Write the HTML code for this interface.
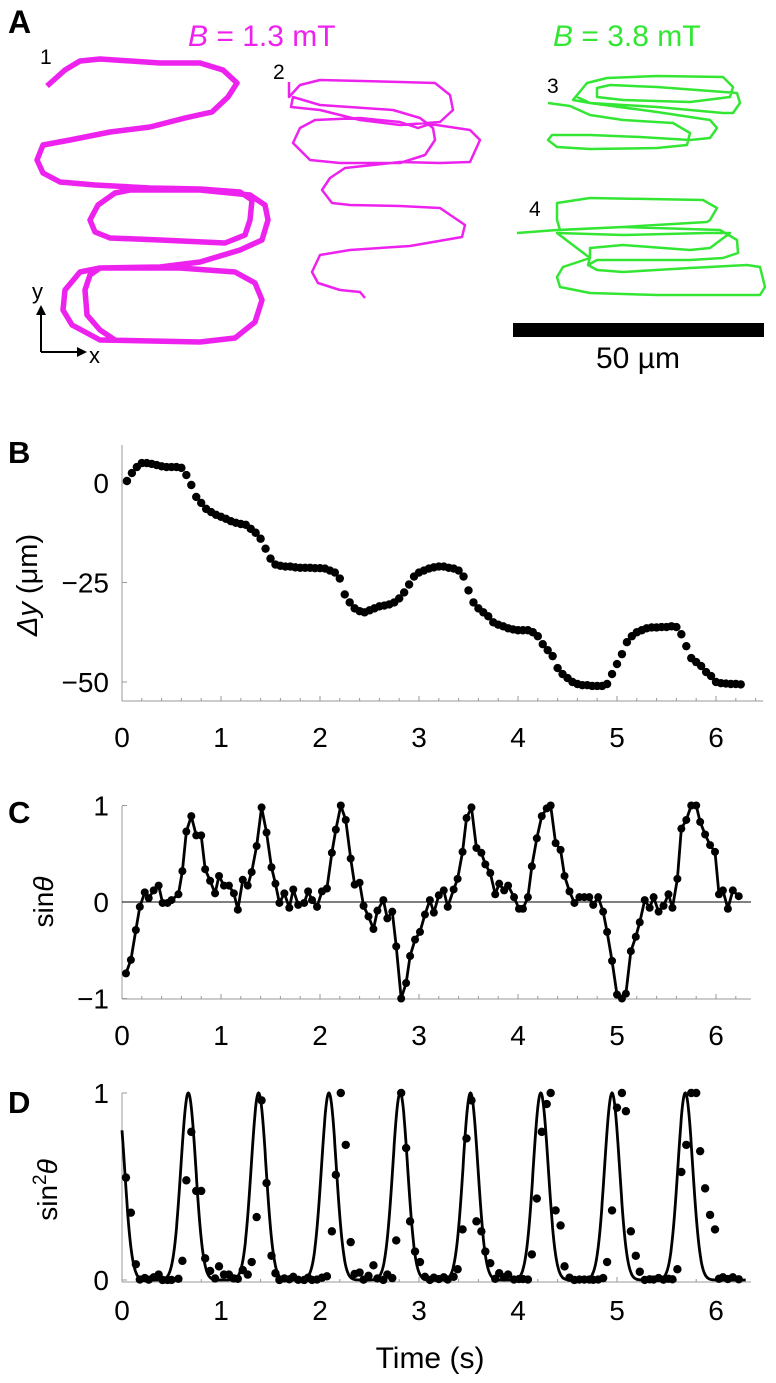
<!DOCTYPE html>
<html><head><meta charset="utf-8"><style>
html,body{margin:0;padding:0;background:#fff;}
svg{display:block;font-family:"Liberation Sans",Arial,sans-serif;}
</style></head><body>
<svg id="fig" width="776" height="1383" viewBox="0 0 776 1383" xmlns="http://www.w3.org/2000/svg">
<g>
<text x="8" y="33" font-size="32" font-weight="bold">A</text>
<text x="188" y="46" font-size="30" fill="#ee22ee"><tspan font-style="italic">B</tspan> = 1.3 mT</text>
<text x="553" y="46" font-size="30" fill="#33e633"><tspan font-style="italic">B</tspan> = 3.8 mT</text>
<text x="40" y="64" font-size="21">1</text>
<text x="273" y="79" font-size="21">2</text>
<text x="547" y="93" font-size="21">3</text>
<text x="529" y="216" font-size="21">4</text>
<polyline fill="none" stroke="#ee22ee" stroke-width="5.5" stroke-linejoin="round" points="47,86 65,70 80,61 100,59 160,63 200,63 223,70 237,83 228,97 212,112 185,118 150,127 110,132 70,140 43,145 37,160 43,173 60,182 95,185 150,188 200,189 240,192 252,200 250,220 245,235 225,243 160,240 110,238 95,232 90,220 98,205 115,193 130,190 200,190 250,195 265,205 268,220 262,240 240,250 200,262 160,267 100,268 80,272 65,290 63,310 72,325 100,340 200,342 235,338 255,322 262,300 255,283 235,272 180,268 100,268 90,275 85,290 87,315 100,330 115,340"/>
<polyline fill="none" stroke="#ee22ee" stroke-width="2.5" stroke-linejoin="round" points="289,82 289,97 300,85 320,80 400,82 435,83 450,95 453,110 440,122 400,125 360,120 320,110 291,107 293,97 320,105 393,110 420,118 433,128 435,140 425,155 400,163 340,163 310,160 293,143 300,128 315,120 360,118 400,122 418,128 430,124 470,130 480,140 470,162 440,163 400,162 345,168 330,178 322,190 332,203 350,205 400,206 440,208 465,225 462,237 410,246 350,250 320,255 312,272 318,283 340,290 360,292 365,298"/>
<polyline fill="none" stroke="#33e633" stroke-width="2.5" stroke-linejoin="round" points="548,103 570,106 590,115 623,120 673,123 690,133 687,145 657,148 590,149 557,147 548,140 552,135 590,135 640,137 690,140 710,138 717,128 710,120 657,112 590,103 573,100 587,83 607,78 657,76 723,77 733,87 730,97 690,102 623,100 597,97 597,88 610,85 657,87 737,93 740,103 733,113 723,113 657,107 590,103 577,97"/>
<polyline fill="none" stroke="#33e633" stroke-width="2.5" stroke-linejoin="round" points="517,233 557,230 623,227 707,222 710,220 717,208 703,200 590,198 557,203 557,220 560,230 623,227 720,230 737,240 738,253 723,258 690,260 597,260 588,265 590,257 590,248 623,245 690,250 710,248 730,233 707,233 623,235 557,233 590,258 563,267 557,277 560,287 590,293 657,295 760,295 765,287 760,267 747,265 690,268 623,272 597,270 588,265"/>
<rect x="513" y="323" width="251" height="14" fill="#000"/>
<text x="638" y="368" font-size="30" text-anchor="middle">50 µm</text>
<g stroke="#000" stroke-width="2" fill="none">
<line x1="41" y1="352" x2="41" y2="312"/><line x1="41" y1="352" x2="80" y2="352"/>
</g>
<polygon points="41,305 36,315 46,315" fill="#000"/>
<polygon points="87,352 77,347 77,357" fill="#000"/>
<text x="32" y="299" font-size="22">y</text>
<text x="89" y="363" font-size="22">x</text>
</g>

<text x="8" y="463" font-size="31" font-weight="bold">B</text>
<text transform="translate(37,585) rotate(-90)" font-size="29" text-anchor="middle"><tspan font-style="italic">Δy</tspan> (μm)</text>
<text x="8" y="823" font-size="31" font-weight="bold">C</text>
<text transform="translate(53,902) rotate(-90)" font-size="28" text-anchor="middle">sin<tspan font-style="italic">θ</tspan></text>
<text x="8" y="1113" font-size="31" font-weight="bold">D</text>
<text transform="translate(57,1190) rotate(-90)" font-size="28" text-anchor="middle">sin<tspan font-size="19" dy="-11">2</tspan><tspan font-style="italic" dy="11">θ</tspan></text>
<text x="430" y="1368" font-size="30" text-anchor="middle">Time (s)</text>
<g id="plots"></g>
</svg>
<script>
// Panel B data (Δy in µm), sampled every 0.05 s starting at 0.05 s
const bStart = 0.05;
const bStep = 0.05;
const dyValues = [0.5,2.5,4,5,5,4.8,4.5,4.2,4,4,4,3.8,2,-0.5,-3.5,-5,-6.5,-7.3,-8,-8.5,-9,-9.6,-10,-10.3,-10.5,-11.5,-12.5,-14,-16.5,-19,-20.5,-20.8,-21,-21,-21.2,-21.3,-21.3,-21.3,-21.4,-21.4,-21.5,-22,-22.5,-24,-28,-30,-31.5,-32.2,-32.5,-32,-31.5,-31,-30.8,-30.5,-30,-29,-27.5,-25.5,-23.5,-22.5,-22,-21.5,-21.2,-21,-21,-21.3,-21.5,-22,-23.5,-27,-30,-31.5,-32.5,-33.5,-35,-35.6,-36,-36.5,-36.8,-37,-37,-37,-37.5,-38.5,-40.5,-42,-43.5,-46.5,-48,-49,-50,-50.5,-50.8,-50.8,-51,-51,-51,-50.5,-48,-45.5,-43,-40,-38.5,-37.5,-37,-36.5,-36.3,-36.3,-36.2,-36.2,-36,-36.2,-38,-41,-44,-45,-46,-47.5,-48.5,-50,-50.3,-50.4,-50.5,-50.5,-50.6];
const bTicksY = [0,-25,-50];
const bTickLabelsY = ["0","\u221225","\u221250"];
// Panel C data (sinθ)
const cTimes = [0.04,0.09,0.14,0.18,0.23,0.27,0.32,0.37,0.41,0.46,0.50,0.57,0.61,0.65,0.70,0.75,0.80,0.84,0.89,0.94,0.98,1.03,1.08,1.13,1.17,1.22,1.27,1.31,1.36,1.41,1.46,1.51,1.55,1.59,1.64,1.69,1.73,1.78,1.84,1.88,1.92,1.97,2.02,2.07,2.12,2.16,2.21,2.26,2.31,2.35,2.40,2.44,2.49,2.54,2.58,2.64,2.68,2.73,2.77,2.82,2.87,2.91,2.96,3.01,3.06,3.11,3.15,3.20,3.25,3.29,3.35,3.39,3.44,3.48,3.53,3.58,3.63,3.67,3.72,3.77,3.81,3.86,3.90,3.96,4.01,4.05,4.10,4.14,4.19,4.24,4.29,4.33,4.38,4.43,4.47,4.52,4.57,4.62,4.67,4.72,4.76,4.81,4.86,4.90,4.95,5.00,5.05,5.09,5.14,5.19,5.23,5.28,5.33,5.37,5.42,5.47,5.52,5.56,5.61,5.65,5.70,5.75,5.80,5.84,5.89,5.94,5.99,6.03,6.07,6.12,6.17,6.23];
const sinValues = [-0.74,-0.6,-0.29,-0.05,0.1,0.04,0.12,0.17,-0.01,-0.01,0.02,0.08,0.32,0.73,0.89,0.69,0.69,0.34,0.22,0.09,0.27,0.17,0.17,0.09,-0.08,0.23,0.17,0.31,0.58,0.98,0.72,0.36,0.19,-0.01,0.09,-0.06,0.13,-0.03,-0.01,0.11,0.02,-0.05,0.11,0.14,0.51,0.75,1.0,0.85,0.45,0.18,0.2,-0.04,-0.15,-0.28,-0.09,0.02,-0.17,-0.1,-0.46,-1.0,-0.84,-0.56,-0.39,-0.31,-0.13,0.02,-0.11,0.07,0.12,-0.05,0.13,0.24,0.52,0.87,0.98,0.56,0.51,0.39,0.3,0.08,0.19,0.12,0.17,0.05,-0.07,-0.07,0.05,0.37,0.66,0.89,0.97,1.0,0.61,0.54,0.27,0.11,-0.01,0.05,0.05,0.05,-0.03,0.05,-0.1,-0.31,-0.61,-0.96,-1.0,-0.95,-0.51,-0.36,-0.21,0.02,-0.06,0.05,-0.1,-0.04,0.08,-0.06,0.24,0.76,0.85,1.0,1.0,0.83,0.7,0.59,0.52,0.08,0.12,-0.07,0.12,0.06];
const cTicksY = [1,0,-1];
const cTickLabelsY = ["1","0","\u22121"];
// Panel D data (sin²θ measured points and fitted peak times)
const sin2Values = sinValues.map(v => v * v);
const fitPeakTimes = [-0.05,0.67,1.38,2.09,2.81,3.52,4.23,4.95,5.69];
const fitWidth = 0.075;
const dTicksY = [1,0];
const dTickLabelsY = ["1","0"];
const xTicks = [0,1,2,3,4,5,6];
const xTickLabels = ["0","1","2","3","4","5","6"];

const NS = "http://www.w3.org/2000/svg";
const plots = document.getElementById("plots");
const X0 = 122, XS = 99;
function xPos(t){ return X0 + t * XS; }
function mk(tag, attrs, parent){
  const e = document.createElementNS(NS, tag);
  for (const k in attrs) e.setAttribute(k, attrs[k]);
  (parent || plots).appendChild(e);
  return e;
}
function axes(name, yTop, yBot, xRight, yMap, yTicks, yLabels, labelY){
  const g = mk("g", {});
  
  
  const ya = mk("line", {x1:X0, y1:yTop, x2:X0, y2:yBot, stroke:"#999", "stroke-width":1}, g);
  
  
  const xa = mk("line", {x1:X0, y1:yBot, x2:xRight, y2:yBot, stroke:"#999", "stroke-width":1}, g);
  
  
  for (let i = 0; i <= 32; i++) {
    const t = i * 0.2;
    const x = xPos(t);
    if (x > xRight) break;
    const major = i % 5 === 0;
    const tk = mk("line", {x1:x, y1:yBot, x2:x, y2:yBot - (major ? 5 : 3), stroke:"#999", "stroke-width":1}, g);
    
    
  }
  xTicks.forEach((t, i) => {
    const lb = mk("text", {x:xPos(t), y:labelY, "font-size":28, "text-anchor":"middle"}, g);
    lb.textContent = xTickLabels[i];
    
    
  });
  yTicks.forEach((v, i) => {
    const y = yMap(v);
    const tk = mk("line", {x1:X0, y1:y, x2:X0 + 5, y2:y, stroke:"#999", "stroke-width":1}, g);
    
    
    const lb = mk("text", {x:109, y:y + 10, "font-size":28, "text-anchor":"end"}, g);
    lb.textContent = yLabels[i];
    
    
  });
}

// Panel B
function yB(v){ return 483 - v * 3.98; }
axes("panel-b", 445, 701, 763, yB, bTicksY, bTickLabelsY, 747);
const gB = mk("g", {});


dyValues.forEach((v, i) => {
  const c = mk("circle", {cx:xPos(bStart + i * bStep), cy:yB(v), r:4.2, fill:"#000"}, gB);
  
  
});

// Panel C
function yC(v){ return 902 - v * 96.5; }
axes("panel-c", 806, 999, 751, yC, cTicksY, cTickLabelsY, 1045);
const zl = mk("line", {x1:X0, y1:yC(0), x2:751, y2:yC(0), stroke:"#000", "stroke-width":1});


const gC = mk("g", {});


const cLine = mk("polyline", {fill:"none", stroke:"#000", "stroke-width":2.8, "stroke-linejoin":"round",
  points: cTimes.map((t, i) => xPos(t) + "," + yC(sinValues[i])).join(" ")}, gC);


cTimes.forEach((t, i) => {
  const c = mk("circle", {cx:xPos(t), cy:yC(sinValues[i]), r:4, fill:"#000"}, gC);
  
  
});

// Panel D
function yD(v){ return 1280 - v * 187; }
axes("panel-d", 1093, 1282, 751, yD, dTicksY, dTickLabelsY, 1320);
const fitPts = [];
for (let t = 0; t <= 6.3; t += 0.005) {
  let f = 0;
  fitPeakTimes.forEach(p => { f += Math.exp(-0.5 * Math.pow((t - p) / fitWidth, 2)); });
  fitPts.push(xPos(t).toFixed(1) + "," + yD(Math.min(f, 1)).toFixed(1));
}
const fit = mk("polyline", {fill:"none", stroke:"#000", "stroke-width":2.8, points:fitPts.join(" ")});


const gD = mk("g", {});


cTimes.forEach((t, i) => {
  const c = mk("circle", {cx:xPos(t), cy:yD(sin2Values[i]), r:4.2, fill:"#000"}, gD);
  
  
});
</script>
</body></html>
